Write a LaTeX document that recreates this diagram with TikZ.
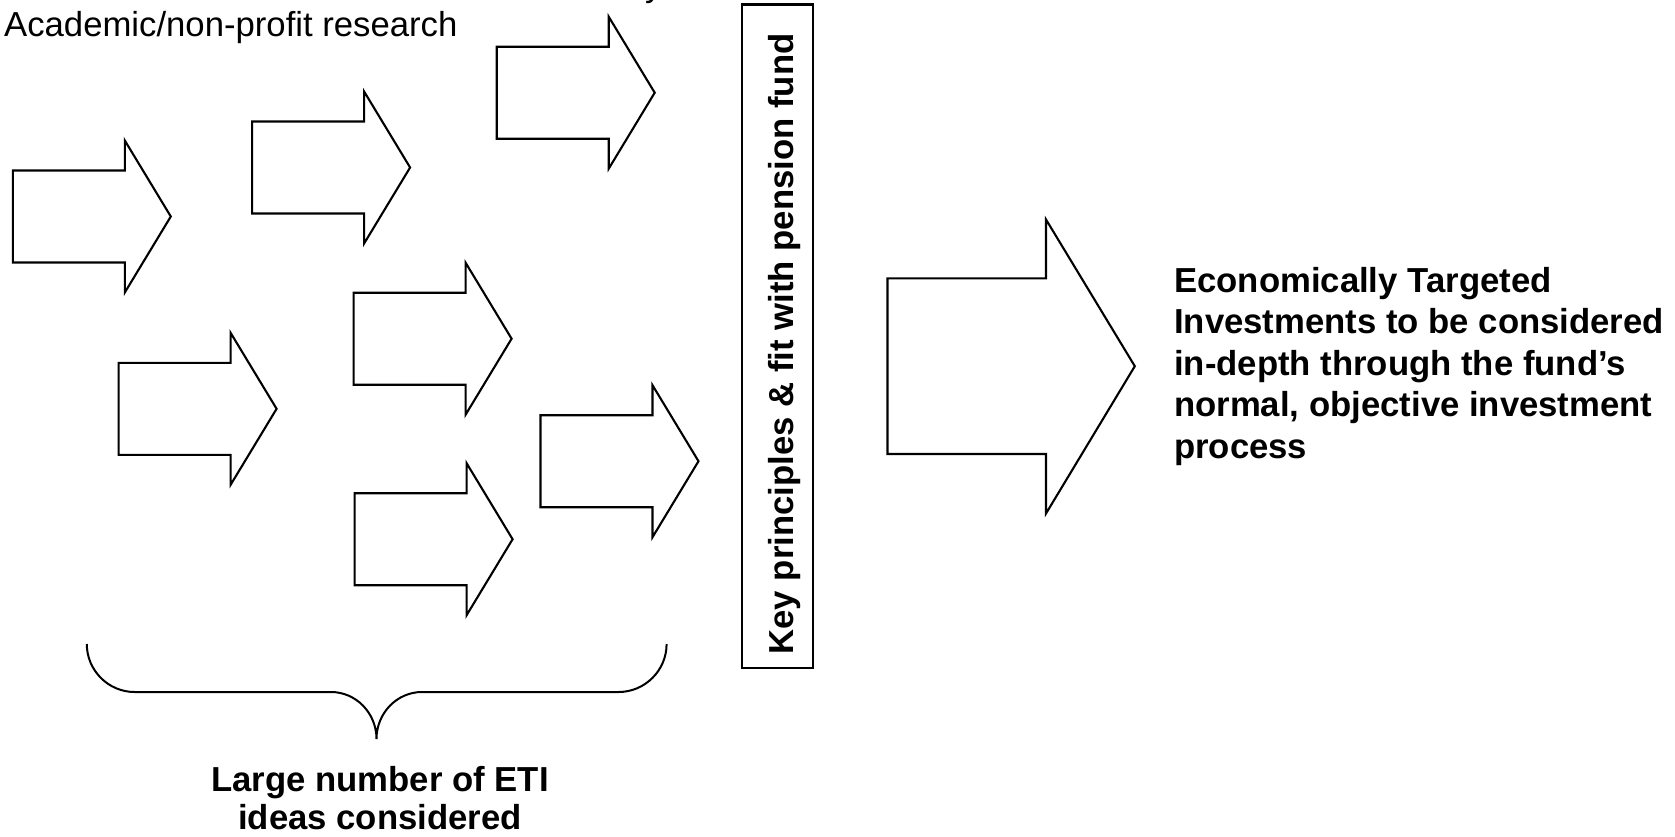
\documentclass[tikz,border=0pt]{standalone}
\usepackage{fontspec}
\setmainfont{Liberation Sans}
\begin{document}
\begin{tikzpicture}[x=1pt,y=-1pt,
  outline/.style={draw=black, line width=2.1pt, line join=miter},
  idea/.pic={\draw[outline] (0,-46) -- (112,-46) -- (112,-76) -- (158,0) -- (112,76) -- (112,46) -- (0,46) -- cycle;
             \coordinate (-tip) at (158,0);},
  lbl/.style={inner sep=0pt, font=\fontsize{34.7}{39}\selectfont},
  blbl/.style={inner sep=0pt, font=\fontsize{34.7}{39}\selectfont\bfseries},
]
\useasboundingbox (0,0) rectangle (1675,836);
\clip (0,0) rectangle (1675,836);

% top labels
\node[lbl, anchor=base west] (cut) at (645,-3.5) {y};
\node[lbl, anchor=base west] (acad) at (4,36.7) {Academic/non-profit research};

% idea arrows
\pic (a1) at (12.8,216.5) {idea};
\pic (a2) at (252.1,167.5) {idea};
\pic (a3) at (496.7,92.7) {idea};
\pic (a4) at (353.6,338.7) {idea};
\pic (a5) at (118.6,408.8) {idea};
\pic (a6) at (540.5,461.2) {idea};
\pic (a7) at (354.6,539.2) {idea};

% filter box
\node[draw=black, line width=2.2pt, minimum width=71.3pt, minimum height=663.5pt, inner sep=0pt] (filter) at (777.3,336.2) {};
\node[blbl, rotate=90, anchor=base] (filtertxt) at (793,344) {Key principles \& fit with pension fund};

% big arrow
\draw[outline] (887.5,278.4) -- (1046,278.4) -- (1046,219.5) -- (1134.8,366.2) -- (1046,513.5) -- (1046,454) -- (887.5,454) -- cycle;
\coordinate (bigtip) at (1134.8,366.2);

% result text (base anchor = last line)
\node[blbl, anchor=base west, align=left, font=\fontsize{34.7}{41.4}\selectfont\bfseries] (result) at (1174,458)
  {Economically Targeted\\Investments to be considered\\in-depth through the fund’s\\normal, objective investment\\process};

% brace
\coordinate (bl) at (86.8,644);
\coordinate (br) at (666.6,644);
\coordinate (btip) at (376.5,739);
\draw[line width=2pt] (bl) .. controls (86.8,670.5) and (108.4,692) .. (134.6,692)
  -- (331,692) .. controls (356,692) and (376.5,713) .. (btip)
  .. controls (376.5,713) and (397,692) .. (422,692)
  -- (618.6,692) .. controls (644.8,692) and (666.6,670.5) .. (br);

\node[blbl, anchor=base, align=center, font=\fontsize{34.7}{38}\selectfont\bfseries] (ideas) at (380,829) {Large number of ETI\\ideas considered};
\end{tikzpicture}
\end{document}
